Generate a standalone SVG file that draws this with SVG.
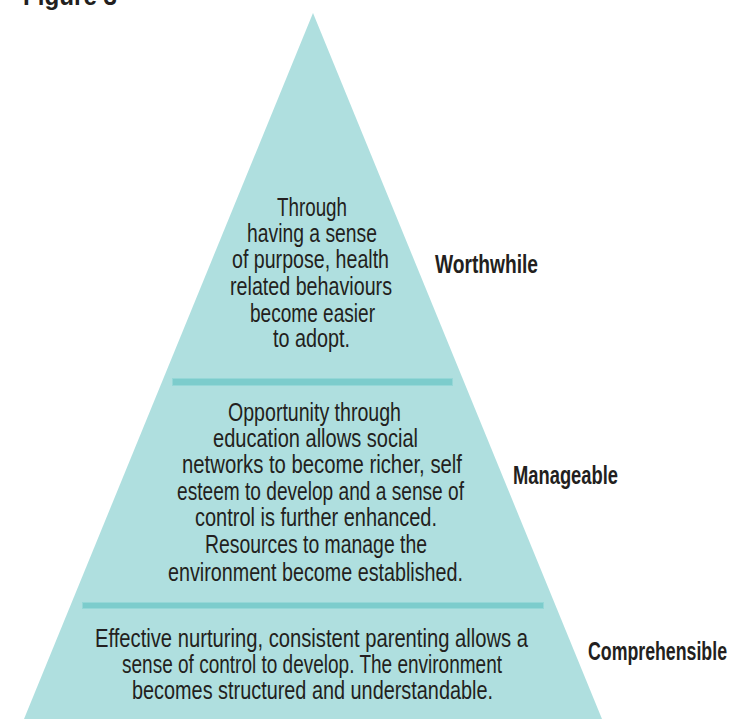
<svg xmlns="http://www.w3.org/2000/svg" width="731" height="719" viewBox="0 0 731 719">
  <style>
    .body { font-family: "Liberation Sans", Arial, sans-serif; font-size: 25px; fill: #231f20; }
    .label { font-family: "Liberation Sans", Arial, sans-serif; font-size: 25px; font-weight: bold; fill: #231f20; }
    .band { fill: #7ccccc; stroke: #95d7d7; stroke-width: 1; }
  </style>
  <rect width="731" height="719" fill="#ffffff"/>
  <text class="label" x="23" y="5" textLength="94" lengthAdjust="spacingAndGlyphs">Figure 3</text>
  <g id="pyramid">
    <polygon points="313,13 602,719 24,719" fill="#afdfdf"/>
    <rect class="band" x="172.5" y="378.5" width="280" height="7"/>
    <rect class="band" x="82.5" y="602.5" width="461" height="6"/>
  </g>
  <g id="tier-worthwhile">
    <text class="body" x="277" y="215.5" textLength="70" lengthAdjust="spacingAndGlyphs">Through</text>
    <text class="body" x="247" y="242" textLength="130" lengthAdjust="spacingAndGlyphs">having a sense</text>
    <text class="body" x="232" y="268" textLength="157" lengthAdjust="spacingAndGlyphs">of purpose, health</text>
    <text class="body" x="230" y="295" textLength="162" lengthAdjust="spacingAndGlyphs">related behaviours</text>
    <text class="body" x="250" y="321.5" textLength="125" lengthAdjust="spacingAndGlyphs">become easier</text>
    <text class="body" x="273" y="347" textLength="77" lengthAdjust="spacingAndGlyphs">to adopt.</text>
    <text class="label" x="435" y="273" textLength="103" lengthAdjust="spacingAndGlyphs">Worthwhile</text>
  </g>
  <g id="tier-manageable">
    <text class="body" x="228" y="421" textLength="173" lengthAdjust="spacingAndGlyphs">Opportunity through</text>
    <text class="body" x="213" y="447" textLength="205" lengthAdjust="spacingAndGlyphs">education allows social</text>
    <text class="body" x="182" y="473" textLength="280" lengthAdjust="spacingAndGlyphs">networks to become richer, self</text>
    <text class="body" x="177" y="500" textLength="287" lengthAdjust="spacingAndGlyphs">esteem to develop and a sense of</text>
    <text class="body" x="195" y="526" textLength="242" lengthAdjust="spacingAndGlyphs">control is further enhanced.</text>
    <text class="body" x="205" y="553" textLength="222" lengthAdjust="spacingAndGlyphs">Resources to manage the</text>
    <text class="body" x="168" y="580.5" textLength="295" lengthAdjust="spacingAndGlyphs">environment become established.</text>
    <text class="label" x="513" y="484" textLength="105" lengthAdjust="spacingAndGlyphs">Manageable</text>
  </g>
  <g id="tier-comprehensible">
    <text class="body" x="95" y="646.5" textLength="433" lengthAdjust="spacingAndGlyphs">Effective nurturing, consistent parenting allows a</text>
    <text class="body" x="122" y="672.5" textLength="380" lengthAdjust="spacingAndGlyphs">sense of control to develop. The environment</text>
    <text class="body" x="132" y="698.5" textLength="361" lengthAdjust="spacingAndGlyphs">becomes structured and understandable.</text>
    <text class="label" x="588" y="660" textLength="139" lengthAdjust="spacingAndGlyphs">Comprehensible</text>
  </g>
  <g id="connectors"/>
</svg>
